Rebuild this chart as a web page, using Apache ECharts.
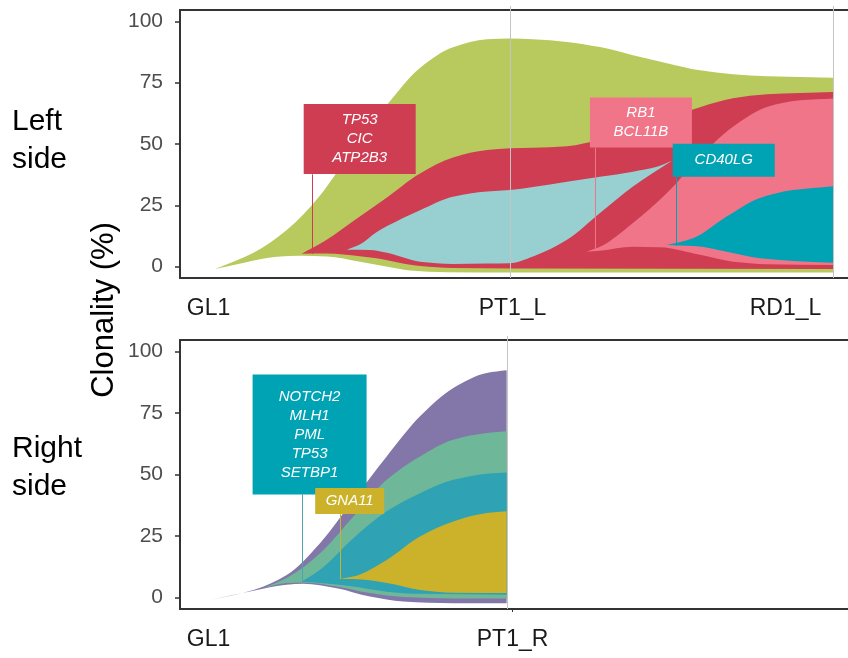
<!doctype html>
<html>
<head>
<meta charset="UTF-8">
<script src="https://cdn.jsdelivr.net/npm/echarts@6.0.0/dist/echarts.min.js"></script>
</head>
<body style="margin:0;background:#fff;">
<div id="fish" style="width:848px;height:658px;"></div>
<script>
// ---- data (x: timeline units, y: clonality %) ----
var yTicks = [0, 25, 50, 75, 100];
var tickLeft = [4.27, 49.78, 90.64];
var tickLeftNames = ['GL1', 'PT1_L', 'RD1_L'];
var tickRight = [4.27, 49.78];
var tickRightNames = ['GL1', 'PT1_R'];
var sampleLeft = [49.4, 97.75];
var sampleRight = [48.9];

// left side clones: upper and lower edges
var lGreenTop = [[5.24,-1.0],[10.93,5.5],[16.02,15.0],[20.96,29.0],[25.9,48.0],[30.99,66.0],[35.93,81.0],[40.87,89.4],[45.96,92.7],[49.4,93.0],[52.84,92.7],[57.93,91.6],[62.87,89.5],[67.81,86.2],[72.9,82.9],[77.84,80.0],[82.78,78.4],[87.87,77.6],[97.75,77.0]];
var lGreenBot = [[5.24,-1.0],[9.43,1.5],[14.52,4.0],[17.96,4.4],[22.01,4.1],[26.95,2.0],[31.89,-0.5],[34.43,-1.6],[40.0,-2.3],[49.4,-2.4],[97.75,-2.4]];
var lRedTop = [[18.22,5.2],[21.96,10.9],[25.9,18.5],[30.4,27.0],[35.93,38.0],[40.87,44.5],[45.96,47.5],[49.4,48.2],[52.84,48.4],[57.93,49.1],[62.87,51.6],[67.81,54.8],[72.9,60.5],[77.84,65.0],[82.78,68.6],[87.87,70.3],[97.75,71.2]];
var lRedBot = [[18.22,5.2],[22.0,5.3],[26.9,4.2],[29.4,3.4],[33.0,1.5],[36.0,0.2],[40.87,-0.6],[49.4,-0.8],[97.75,-1.0]];
var lCyanTop = [[24.95,6.9],[26.9,9.0],[29.4,14.0],[31.0,16.5],[35.93,23.0],[40.87,28.5],[45.96,30.6],[49.4,31.2],[52.84,32.4],[57.93,34.6],[62.87,36.6],[67.81,38.7],[71.4,40.7],[73.65,43.1]];
var lCyanBot = [[24.95,6.9],[28.4,6.8],[31.0,5.6],[35.93,2.0],[40.87,1.1],[45.96,1.3],[49.4,1.4],[52.84,4.1],[57.93,10.9],[62.87,21.8],[67.81,32.6],[73.65,43.1]];
var lPinkTop = [[60.88,6.1],[62.87,8.1],[67.81,17.8],[72.9,30.0],[77.84,44.8],[82.78,57.0],[87.87,65.1],[92.81,67.8],[97.75,68.5]];
var lPinkBot = [[60.88,6.1],[62.87,6.5],[67.81,8.1],[71.86,7.9],[77.84,4.8],[82.78,2.0],[87.87,1.0],[97.75,0.7]];
var lTealTop = [[72.86,8.8],[76.9,11.7],[81.84,20.4],[86.83,28.0],[91.77,31.2],[97.75,32.8]];
var lTealBot = [[72.86,8.8],[76.9,8.4],[81.84,6.1],[86.83,3.4],[91.77,2.3],[97.75,1.6]];

// right side clones
var rPurpleTop = [[4.49,-1.0],[10.98,3.1],[15.97,9.2],[20.96,22.1],[25.95,39.7],[30.94,57.3],[35.93,73.6],[40.92,85.1],[45.91,91.2],[48.9,92.3]];
var rPurpleBot = [[4.49,-1.0],[10.98,2.8],[15.97,5.2],[18.46,5.6],[23.46,3.8],[28.44,0.4],[33.43,-1.6],[40.92,-2.3],[48.9,-2.3]];
var rGreenTop = [[12.47,3.8],[15.97,7.9],[20.96,18.0],[25.95,32.9],[30.94,47.8],[35.93,57.3],[40.92,64.1],[45.91,66.8],[48.9,67.5]];
var rGreenBot = [[12.47,3.8],[15.97,5.9],[18.46,6.1],[23.46,4.5],[28.44,1.8],[33.43,0.2],[40.92,-0.4],[48.9,-0.4]];
var rTealTop = [[18.22,6.5],[20.96,11.3],[25.95,24.1],[30.94,35.0],[35.93,42.4],[40.92,47.8],[45.91,50.3],[48.9,50.8]];
var rTealBot = [[18.22,6.5],[20.96,5.9],[25.95,4.5],[30.94,2.4],[35.93,1.5],[48.9,1.1]];
var rYellowTop = [[23.95,7.5],[25.95,8.5],[30.94,15.3],[35.93,24.8],[40.92,30.9],[45.91,34.3],[48.9,35.0]];
var rYellowBot = [[23.95,7.5],[25.95,7.5],[30.94,5.9],[35.93,3.1],[40.92,2.0],[48.9,1.8]];

// mutation labels
var genesTP53 = ['TP53', 'CIC', 'ATP2B3'];
var genesRB1 = ['RB1', 'BCL11B'];
var genesCD40 = ['CD40LG'];
var genesNOTCH = ['NOTCH2', 'MLH1', 'PML', 'TP53', 'SETBP1'];
var genesGNA = ['GNA11'];

// ---- drawing ----
var FONT = '"Liberation Sans", Arial, sans-serif';
var YMIN = -4.65, YMAX = 104.6;

// monotone cubic through pixel points -> list of bezier segments
function segs(p) {
    var n = p.length, h = [], s = [], m = [], out = [];
    for (var i = 0; i < n - 1; i++) {
        h[i] = p[i + 1][0] - p[i][0] || 1e-6;
        s[i] = (p[i + 1][1] - p[i][1]) / h[i];
    }
    m[0] = s[0];
    m[n - 1] = s[n - 2];
    for (var i = 1; i < n - 1; i++) {
        if (s[i - 1] * s[i] <= 0) m[i] = 0;
        else m[i] = 3 * (h[i - 1] + h[i]) / ((2 * h[i] + h[i - 1]) / s[i - 1] + (h[i] + 2 * h[i - 1]) / s[i]);
    }
    for (var i = 0; i < n - 1; i++) {
        var d = h[i] / 3;
        out.push([p[i][0] + d, p[i][1] + m[i] * d, p[i + 1][0] - d, p[i + 1][1] - m[i + 1] * d, p[i + 1][0], p[i + 1][1]]);
    }
    return out;
}

function fish(idx, top, bot, color) {
    return {
        type: 'custom', xAxisIndex: idx, yAxisIndex: idx, silent: true, data: [[0, 0]],
        renderItem: function (params, api) {
            var t = top.map(function (q) { return api.coord(q); });
            var b = bot.map(function (q) { return api.coord(q); });
            var d = 'M' + t[0][0] + ' ' + t[0][1];
            segs(t).forEach(function (c) { d += ' C' + c.join(' '); });
            var bl = b[b.length - 1];
            d += ' L' + bl[0] + ' ' + bl[1];
            var bs = segs(b);
            for (var i = bs.length - 1; i >= 0; i--) {
                var c = bs[i];
                d += ' C' + c[2] + ' ' + c[3] + ' ' + c[0] + ' ' + c[1] + ' ' + b[i][0] + ' ' + b[i][1];
            }
            d += ' Z';
            return { type: 'path', shape: { pathData: d }, style: { fill: color } };
        }
    };
}

function samples(idx, xs) {
    return {
        type: 'custom', xAxisIndex: idx, yAxisIndex: idx, silent: true, clip: false,
        data: xs.map(function (x) { return [x, 0]; }),
        renderItem: function (params, api) {
            var a = api.coord([api.value(0), YMAX]);
            var b = api.coord([api.value(0), YMIN]);
            var x = Math.round(a[0]) + 0.5;
            return { type: 'line', shape: { x1: x, y1: a[1] - 4, x2: x, y2: b[1] },
                style: { stroke: '#C4C4C4', lineWidth: 1 } };
        }
    };
}

// label: gene list, line x, line y from/to, box centre, box size
function tag(idx, genes, lx, ly0, ly1, bx, by, w, h, boxColor, lineColor) {
    return {
        type: 'custom', xAxisIndex: idx, yAxisIndex: idx, silent: true, clip: false, data: [[bx, by]],
        renderItem: function (params, api) {
            var p0 = api.coord([lx, ly0]), p1 = api.coord([lx, ly1]), c = api.coord([bx, by]);
            var x = Math.round(p0[0]) + 0.5;
            return {
                type: 'group', children: [
                    { type: 'line', shape: { x1: x, y1: p0[1], x2: x, y2: p1[1] }, style: { stroke: lineColor, lineWidth: 1 } },
                    { type: 'rect', shape: { x: c[0] - w / 2, y: c[1] - h / 2, width: w, height: h }, style: { fill: boxColor } },
                    { type: 'text', x: c[0], y: c[1], style: { text: genes.join('\n'), fill: '#fff',
                        font: 'italic 15px ' + FONT, lineHeight: 19, align: 'center', verticalAlign: 'middle' } }
                ]
            };
        }
    };
}

function xAxis(idx, ticks, names) {
    return {
        type: 'value', gridIndex: idx, min: 0, max: 100,
        axisLine: { show: true, onZero: false, lineStyle: { color: '#333', width: 2 } }, splitLine: { show: false },
        axisTick: idx === 1 ? { show: true, customValues: [ticks[1]], length: 3, lineStyle: { color: '#333' } } : { show: false },
        axisLabel: {
            customValues: ticks, margin: 19, fontSize: 23, color: '#1A1A1A', fontFamily: FONT,
            formatter: function (v) { return names[ticks.indexOf(v)]; }
        }
    };
}

// top frame line of each panel
function topLine(idx) {
    return {
        type: 'value', gridIndex: idx, position: 'top', min: 0, max: 100,
        axisLine: { show: true, onZero: false, lineStyle: { color: '#333', width: 2 } },
        axisTick: { show: false }, axisLabel: { show: false }, splitLine: { show: false }
    };
}

function yAxis(idx) {
    return {
        type: 'value', gridIndex: idx, min: YMIN, max: YMAX,
        axisLine: { show: true, onZero: false, lineStyle: { color: '#333', width: 2 } }, splitLine: { show: false },
        axisTick: { show: true, customValues: yTicks, length: 5, lineStyle: { color: '#333', width: 1.5 } },
        axisLabel: { customValues: yTicks, margin: 17, fontSize: 21, color: '#4D4D4D', fontFamily: FONT }
    };
}

var chart = echarts.init(document.getElementById('fish'), null, { renderer: 'canvas' });
chart.setOption({
    animation: false,
    backgroundColor: '#fff',
    grid: [
        { left: 180, top: 10, width: 668, height: 268 },
        { left: 180, top: 340, width: 668, height: 269 }
    ],
    xAxis: [xAxis(0, tickLeft, tickLeftNames), xAxis(1, tickRight, tickRightNames), topLine(0), topLine(1)],
    yAxis: [yAxis(0), yAxis(1)],
    graphic: [
        { type: 'text', x: 12, y: 141, style: { text: 'Left\nside', font: '30px ' + FONT, fill: '#000', lineHeight: 38, verticalAlign: 'middle' } },
        { type: 'text', x: 12, y: 468, style: { text: 'Right\nside', font: '30px ' + FONT, fill: '#000', lineHeight: 38, verticalAlign: 'middle' } },
        { type: 'text', x: 104, y: 310, rotation: Math.PI / 2, style: { text: 'Clonality (%)', font: '31px ' + FONT, fill: '#000', align: 'center', verticalAlign: 'middle' } }
    ],
    series: [
        fish(0, lGreenTop, lGreenBot, '#B8CA5E'),
        fish(0, lRedTop, lRedBot, '#CF3D53'),
        fish(0, lCyanTop, lCyanBot, '#98CFD0'),
        fish(0, lPinkTop, lPinkBot, '#F07589'),
        fish(0, lTealTop, lTealBot, '#00A3B4'),
        samples(0, sampleLeft),
        tag(0, genesTP53, 19.7, 5.2, 37.6, 26.9, 52.0, 112, 70, '#CF3D53', '#CF3D53'),
        tag(0, genesRB1, 62.2, 6.4, 48.4, 69.0, 58.7, 102, 50, '#F07589', '#F07589'),
        tag(0, genesCD40, 74.25, 8.4, 36.6, 81.4, 43.4, 102, 33, '#00A3B4', '#00A3B4'),
        fish(1, rPurpleTop, rPurpleBot, '#8376A8'),
        fish(1, rGreenTop, rGreenBot, '#6EB899'),
        fish(1, rTealTop, rTealBot, '#2FA2B4'),
        fish(1, rYellowTop, rYellowBot, '#CBB22A'),
        samples(1, sampleRight),
        tag(1, genesNOTCH, 18.2, 6.5, 41.9, 19.4, 66.2, 114, 120, '#00A3B4', '#4FA3AE'),
        tag(1, genesGNA, 23.95, 7.5, 33.9, 25.4, 39.2, 69, 26, '#CBB22A', '#CBB22A')
    ]
});
</script>
</body>
</html>
